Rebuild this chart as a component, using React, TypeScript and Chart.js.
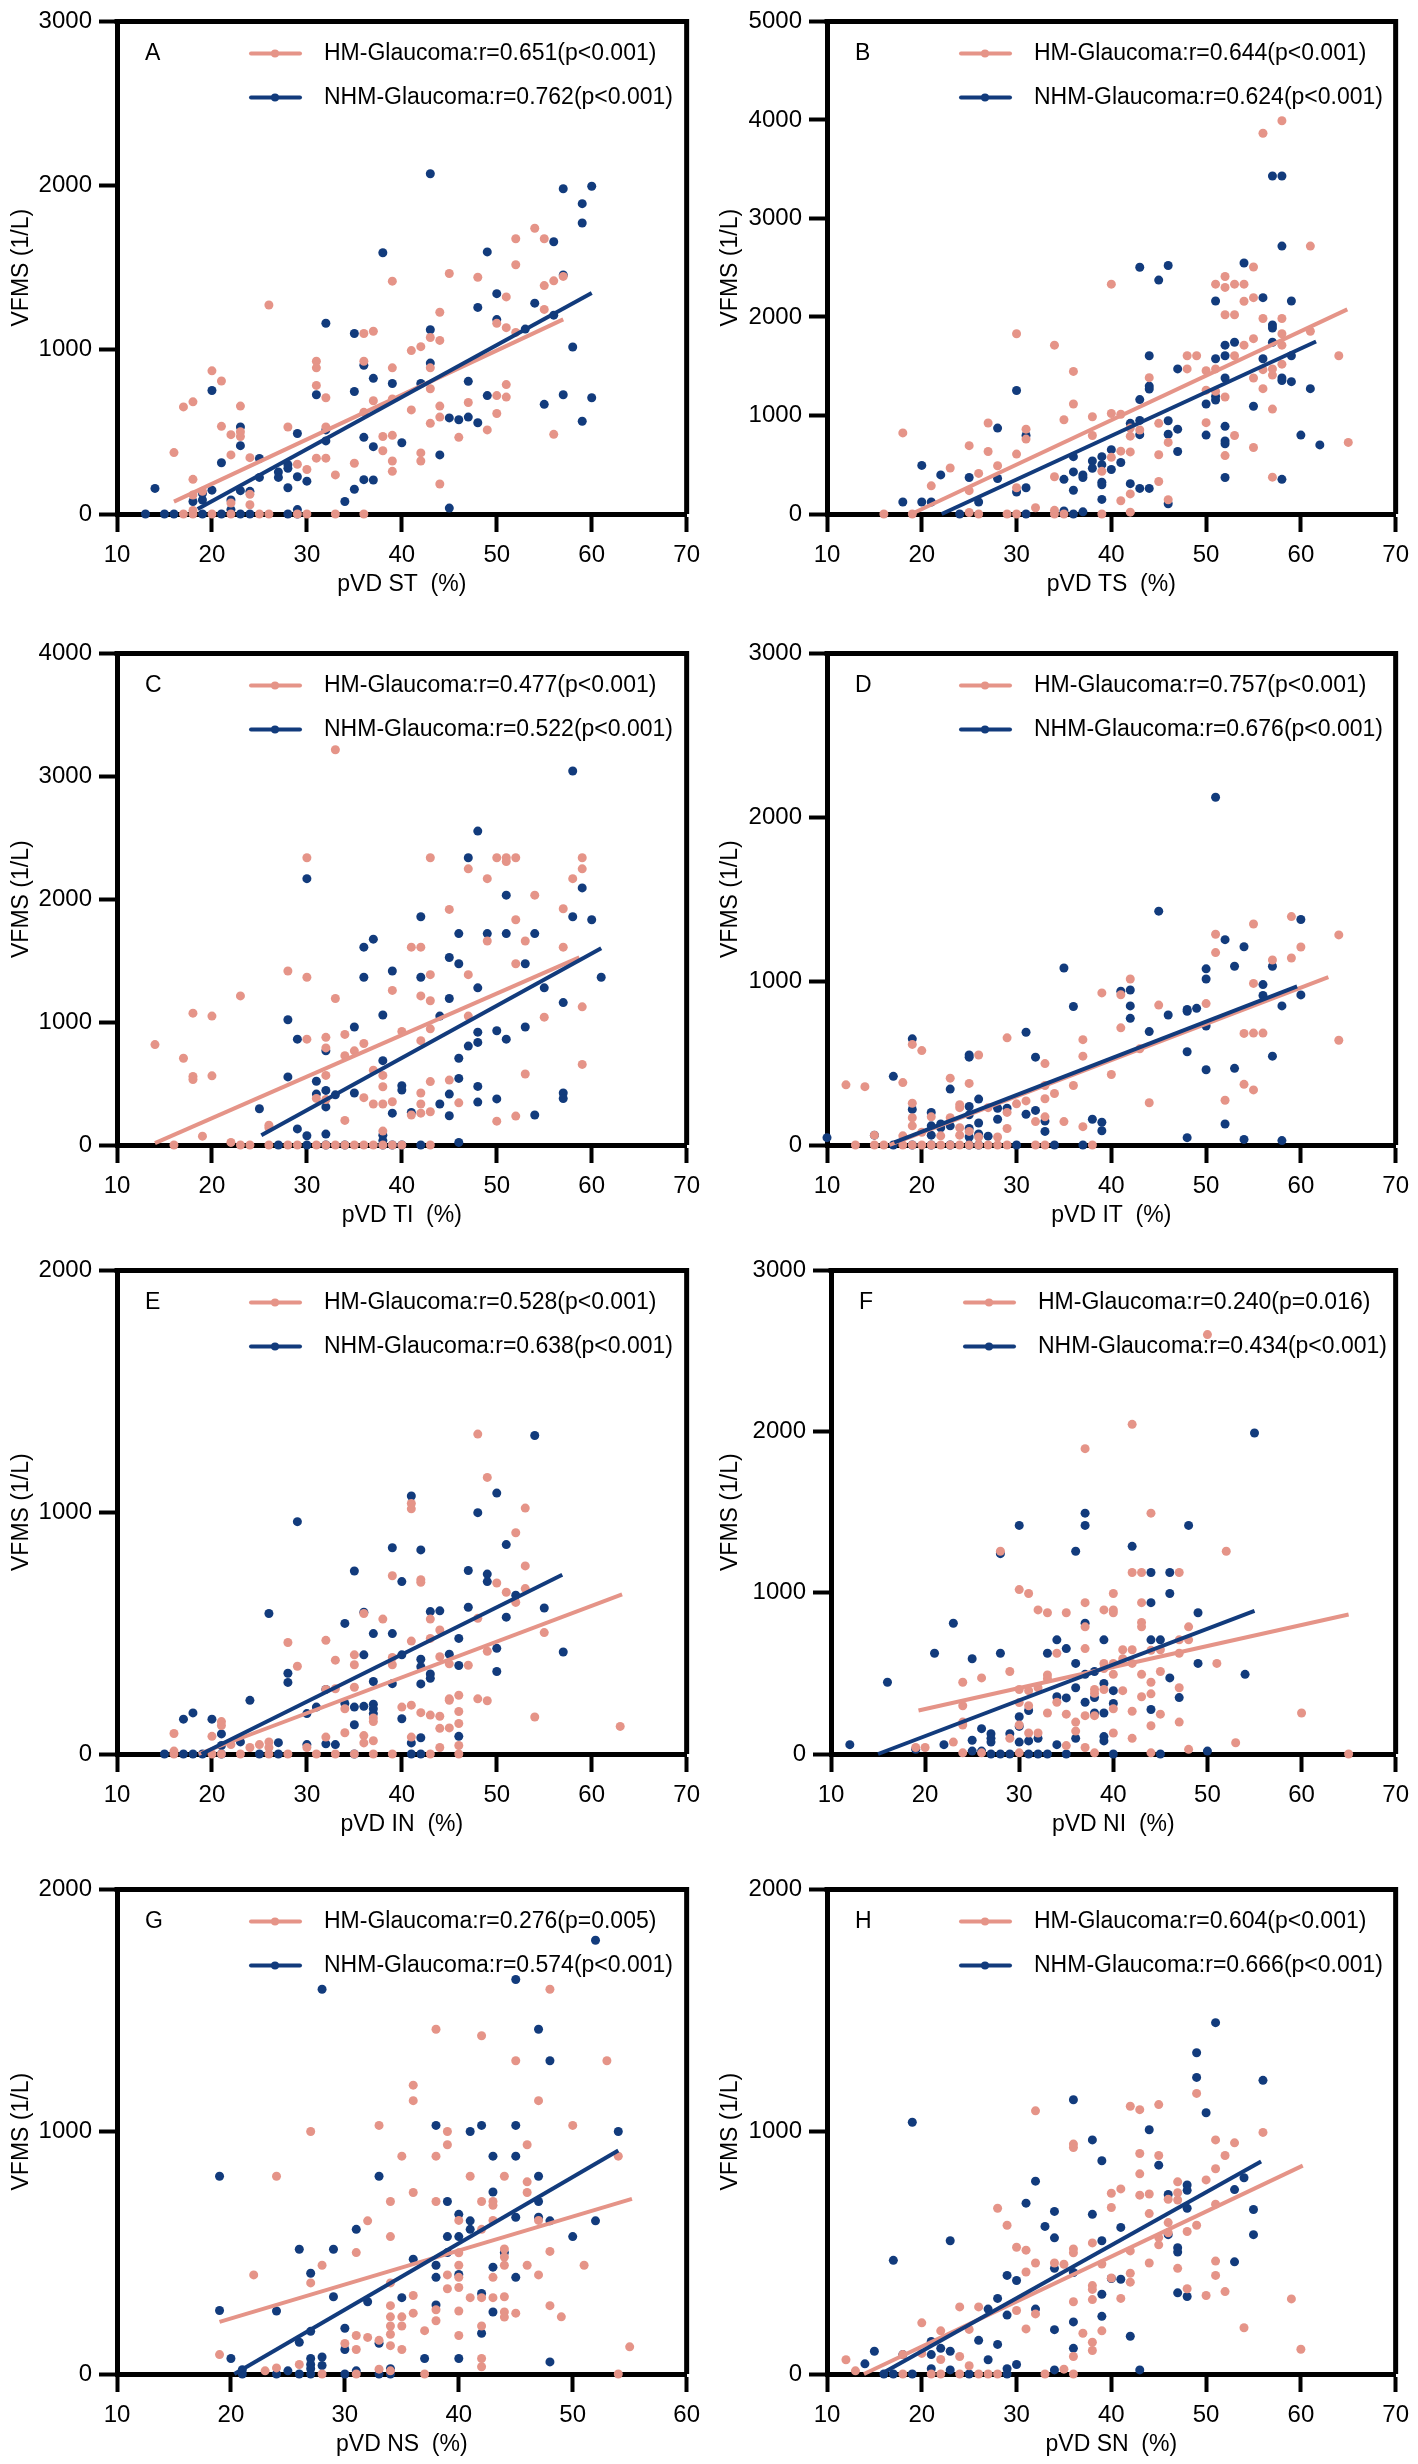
import React, { useEffect, useRef } from "react";
import { Chart, registerables } from "chart.js";

Chart.register(...registerables);

type Pts = [number, number][];

// ---------------- Panel A : pVD ST ----------------
const A_HM: Pts = [[54,1740],[52,1676],[55,1676],[52,1518],[45,1465],[48,1442],[39,1418],[57,1447],[56,1420],[55,1391],[51,1322],[26,1273],[44,1229],[55,1246],[50,1162],[51,1135],[52,1106],[36,1099],[37,1113],[43,1075],[44,1057],[41,995],[42,1019],[31,930],[31,890],[36,930],[39,890],[43,890],[20,872],[21,810],[31,783],[51,788],[43,763],[17,652],[18,683],[23,657],[32,708],[37,690],[39,701],[50,721],[51,712],[47,679],[41,634],[44,657],[36,619],[21,534],[22,483],[23,472],[23,501],[28,530],[32,530],[44,590],[43,552],[50,612],[49,512],[56,485],[46,467],[38,472],[39,479],[16,374],[22,360],[24,343],[29,303],[30,271],[31,340],[32,340],[33,238],[35,309],[38,385],[39,323],[39,260],[42,372],[42,323],[44,183],[18,211],[18,116],[19,138],[22,67],[24,120],[24,56],[18,22],[17,0],[18,0],[20,0],[22,0],[25,0],[26,0],[29,0],[30,0],[33,0],[36,0]];
const A_NHM: Pts = [[43,2072],[57,1981],[60,1996],[59,1890],[59,1772],[56,1658],[38,1591],[49,1596],[57,1456],[50,1342],[54,1284],[48,1258],[50,1184],[56,1211],[32,1162],[35,1099],[43,1122],[53,1126],[58,1017],[36,906],[43,919],[37,826],[39,795],[42,795],[47,808],[20,752],[31,726],[35,746],[49,721],[57,726],[60,708],[55,668],[45,585],[46,574],[47,590],[48,556],[59,565],[23,530],[32,512],[29,490],[36,467],[32,445],[40,434],[23,416],[37,410],[44,360],[25,338],[21,312],[27,256],[27,223],[28,278],[28,300],[25,223],[29,227],[30,200],[36,209],[37,207],[28,160],[14,156],[20,145],[19,125],[23,142],[35,151],[24,138],[18,76],[19,85],[22,85],[34,76],[45,36],[29,27],[22,27],[13,0],[15,0],[16,0],[19,0],[21,0],[23,0],[24,0],[28,0],[29,0]];
const A_HM_FIT: Pts = [[16,75],[57,1185]];
const A_NHM_FIT: Pts = [[18.5,30],[60,1346]];

// ---------------- Panel B : pVD TS ----------------
const B_HM: Pts = [[58,3991],[56,3865],[61,2719],[55,2507],[40,2333],[52,2411],[51,2333],[52,2300],[53,2333],[54,2333],[55,2196],[54,2159],[52,2022],[53,2022],[56,1984],[58,1984],[30,1829],[58,1829],[61,1855],[55,1780],[34,1714],[54,1714],[58,1714],[48,1606],[49,1606],[53,1606],[64,1606],[36,1447],[48,1473],[50,1454],[51,1473],[56,1465],[57,1473],[57,1410],[58,1521],[55,1380],[44,1384],[50,1257],[51,1246],[56,1272],[36,1116],[52,1187],[40,1020],[41,1013],[38,987],[35,957],[57,1065],[27,924],[50,927],[45,920],[42,872],[43,853],[31,861],[18,823],[38,797],[42,790],[53,797],[31,760],[46,727],[65,727],[25,694],[55,675],[27,634],[41,638],[42,630],[30,608],[45,601],[52,593],[40,575],[23,467],[28,490],[26,412],[39,434],[34,378],[57,374],[21,286],[30,267],[45,330],[25,237],[42,204],[41,134],[46,145],[32,63],[34,37],[42,19],[25,15],[16,0],[19,0],[26,0],[29,0],[30,0],[34,0],[35,0],[39,0]];
const B_NHM: Pts = [[57,3431],[58,3431],[58,2719],[54,2548],[43,2504],[46,2522],[45,2374],[56,2196],[59,2162],[51,2162],[57,1918],[57,1888],[52,1714],[53,1743],[57,1743],[44,1606],[52,1606],[51,1576],[56,1576],[59,1606],[47,1473],[52,1380],[58,1380],[58,1354],[59,1343],[44,1298],[44,1269],[30,1254],[61,1272],[51,1194],[51,1157],[43,1161],[50,1116],[55,1094],[42,920],[43,950],[46,946],[52,890],[28,872],[47,861],[31,797],[43,805],[46,809],[50,801],[60,801],[52,742],[52,712],[62,701],[47,634],[36,582],[39,582],[40,653],[41,523],[38,538],[39,501],[20,493],[40,452],[36,427],[22,397],[37,397],[37,371],[38,464],[25,371],[28,360],[35,352],[39,323],[39,297],[52,371],[58,352],[42,308],[43,260],[44,260],[31,267],[30,223],[36,241],[18,122],[20,122],[21,122],[26,122],[39,148],[46,104],[35,30],[37,22],[24,0],[31,0],[36,0]];
const B_HM_FIT: Pts = [[18.9,0],[64.9,2077]];
const B_NHM_FIT: Pts = [[22.1,0],[61.6,1751]];

// ---------------- Panel C : pVD TI ----------------
const C_HM: Pts = [[33,3216],[30,2337],[43,2337],[50,2337],[51,2337],[51,2307],[52,2337],[59,2337],[47,2247],[59,2247],[49,2167],[58,2167],[54,2033],[45,1917],[57,1922],[52,1833],[49,1660],[53,1660],[41,1610],[42,1610],[57,1610],[52,1475],[28,1416],[43,1386],[47,1386],[30,1365],[39,1258],[23,1213],[33,1192],[42,1213],[43,1174],[18,1073],[20,1049],[47,1049],[55,1040],[59,1124],[40,924],[43,945],[14,817],[30,861],[32,876],[34,900],[42,849],[32,790],[36,826],[35,766],[34,727],[17,706],[59,656],[37,608],[18,557],[18,533],[20,563],[32,566],[38,566],[53,578],[45,528],[43,516],[38,474],[42,423],[31,379],[32,370],[36,385],[37,334],[38,334],[39,352],[46,343],[42,334],[42,259],[43,271],[41,244],[52,235],[50,194],[34,200],[26,161],[26,140],[19,72],[38,113],[22,21],[16,0],[23,0],[24,0],[26,0],[28,0],[29,0],[31,0],[32,0],[33,0],[34,0],[35,0],[36,0],[37,0],[38,0],[39,0],[40,0],[43,0]];
const C_NHM: Pts = [[58,3043],[48,2554],[47,2337],[30,2167],[59,2092],[51,2033],[42,1857],[58,1857],[60,1833],[46,1720],[49,1720],[51,1720],[54,1720],[37,1675],[36,1610],[45,1526],[46,1475],[53,1475],[39,1416],[36,1365],[42,1365],[61,1365],[48,1279],[55,1279],[45,1192],[57,1159],[38,1058],[44,1049],[28,1019],[35,960],[53,960],[48,918],[50,930],[29,861],[51,861],[48,835],[47,805],[32,766],[46,706],[38,686],[28,554],[46,542],[31,519],[40,483],[40,447],[48,477],[32,444],[31,414],[33,408],[35,423],[45,414],[57,423],[57,378],[50,375],[48,349],[32,310],[44,334],[25,295],[39,259],[41,265],[45,238],[54,244],[29,131],[30,75],[32,89],[38,80],[38,36],[46,21],[27,0],[30,0],[32,0],[34,0],[38,0],[39,0],[40,0],[42,0]];
const C_HM_FIT: Pts = [[14,15],[58.7,1526]];
const C_NHM_FIT: Pts = [[25.2,80],[61,1600]];

// ---------------- Panel D : pVD IT ----------------
const D_HM: Pts = [[59,1394],[55,1349],[51,1286],[64,1282],[51,1174],[60,1208],[57,1129],[59,1141],[42,1013],[55,986],[39,928],[41,917],[50,863],[45,854],[41,715],[54,681],[55,683],[56,683],[29,654],[37,643],[64,639],[19,614],[20,576],[26,549],[37,542],[33,497],[43,587],[40,430],[23,408],[12,367],[14,356],[18,381],[25,376],[36,363],[33,363],[54,370],[55,336],[34,314],[33,282],[52,273],[44,258],[19,255],[24,246],[24,228],[31,269],[30,251],[29,199],[33,172],[19,166],[23,166],[21,172],[27,228],[32,143],[35,143],[29,101],[37,112],[19,117],[20,78],[25,83],[15,60],[18,56],[24,105],[24,60],[28,49],[26,49],[22,56],[13,0],[15,0],[16,0],[18,0],[19,0],[20,0],[21,0],[22,0],[23,0],[24,0],[25,0],[26,0],[27,0],[28,0],[29,0],[32,0],[33,0],[38,0]];
const D_NHM: Pts = [[51,2122],[45,1427],[60,1376],[52,1253],[54,1210],[35,1080],[53,1091],[50,1075],[57,1091],[50,1013],[41,939],[42,946],[56,979],[56,912],[60,916],[36,845],[42,849],[58,849],[48,827],[49,834],[48,816],[46,793],[50,726],[42,773],[31,688],[44,692],[19,648],[25,549],[25,536],[32,536],[48,569],[57,542],[50,459],[53,468],[17,419],[23,341],[26,280],[19,217],[21,199],[25,235],[28,224],[29,224],[31,188],[32,211],[22,128],[22,105],[21,117],[23,117],[25,184],[26,134],[28,157],[33,146],[38,157],[39,139],[39,87],[33,83],[52,128],[25,101],[26,67],[27,54],[21,60],[15,60],[10,45],[48,45],[54,34],[58,27],[25,49],[17,0],[19,0],[21,0],[23,0],[25,0],[26,0],[30,0],[34,0],[37,0]];
const D_HM_FIT: Pts = [[16.6,0],[62.9,1024]];
const D_NHM_FIT: Pts = [[17.1,16],[59.6,968]];

// ---------------- Panel E : pVD IN ----------------
const E_HM: Pts = [[48,1323],[49,1144],[53,1017],[41,1036],[41,1014],[52,915],[53,778],[39,737],[42,721],[42,710],[50,707],[51,669],[53,684],[52,627],[36,581],[38,558],[43,558],[48,561],[44,513],[55,502],[28,461],[32,470],[41,467],[43,478],[49,425],[29,363],[33,388],[35,410],[35,369],[39,399],[39,369],[44,402],[45,373],[47,367],[32,267],[33,270],[35,276],[34,187],[41,202],[44,156],[43,161],[45,228],[46,243],[45,222],[48,228],[49,220],[42,171],[46,176],[46,126],[54,153],[63,114],[36,76],[36,46],[37,149],[40,194],[37,134],[37,55],[34,88],[44,106],[45,108],[41,70],[32,70],[16,85],[20,73],[21,134],[21,118],[22,39],[25,39],[26,50],[26,27],[24,27],[16,12],[30,27],[44,27],[46,35],[16,0],[20,0],[21,0],[23,0],[26,0],[28,0],[31,0],[33,0],[35,0],[37,0],[39,0],[43,0],[46,0]];
const E_NHM: Pts = [[54,1317],[41,1067],[50,1079],[29,961],[48,998],[51,866],[39,853],[42,844],[35,757],[47,759],[49,744],[49,713],[40,713],[52,657],[26,581],[36,586],[43,589],[44,592],[47,607],[55,604],[51,566],[34,540],[37,498],[39,498],[46,478],[50,437],[57,422],[40,410],[36,410],[45,413],[42,392],[42,361],[46,366],[50,341],[28,334],[43,331],[43,313],[28,296],[37,300],[39,291],[42,290],[32,267],[24,222],[31,194],[34,209],[35,194],[36,197],[37,206],[37,187],[37,167],[30,167],[40,146],[17,144],[18,170],[20,144],[35,121],[21,83],[41,46],[46,73],[42,67],[23,50],[27,47],[33,39],[32,42],[21,35],[30,39],[15,0],[17,0],[18,0],[19,0],[21,0],[25,0],[27,0],[35,0],[41,0],[42,0]];
const E_HM_FIT: Pts = [[18.6,0],[63.2,660]];
const E_NHM_FIT: Pts = [[18.9,0],[56.9,741]];

// ---------------- Panel F : pVD NI ----------------
const F_HM: Pts = [[50,2602],[42,2045],[37,1894],[44,1494],[28,1258],[52,1258],[42,1126],[43,1126],[47,1126],[30,1020],[31,996],[40,996],[43,939],[37,939],[32,894],[33,876],[35,876],[39,894],[40,894],[40,876],[43,816],[43,789],[37,789],[48,789],[48,708],[47,708],[37,654],[41,647],[42,647],[34,625],[45,647],[44,643],[47,625],[41,591],[51,562],[39,562],[39,530],[40,562],[40,494],[42,562],[43,494],[45,512],[29,512],[33,490],[33,467],[26,472],[24,445],[44,445],[44,373],[39,400],[38,400],[30,400],[31,393],[32,411],[47,411],[41,393],[38,377],[43,355],[24,299],[30,319],[31,299],[34,321],[40,281],[33,254],[35,247],[38,238],[37,238],[42,265],[45,247],[60,254],[24,198],[24,180],[44,175],[47,198],[36,198],[36,142],[30,180],[40,130],[31,130],[32,130],[29,97],[42,97],[53,70],[23,74],[19,40],[20,40],[37,40],[48,29],[24,7],[26,7],[30,7],[38,7],[44,7],[65,0],[35,52]];
const F_NHM: Pts = [[55,1991],[37,1494],[37,1418],[30,1418],[48,1418],[42,1288],[28,1243],[36,1258],[44,1126],[46,1126],[46,996],[44,939],[49,876],[23,811],[37,811],[34,708],[39,708],[44,708],[45,708],[35,654],[21,625],[28,625],[33,625],[25,591],[36,562],[49,562],[54,494],[38,512],[37,494],[46,472],[16,445],[39,438],[36,411],[40,393],[34,355],[35,348],[38,350],[47,350],[37,321],[40,314],[44,276],[31,270],[39,254],[38,254],[30,231],[30,171],[26,157],[27,126],[27,97],[27,74],[29,126],[25,85],[32,97],[31,81],[30,74],[36,97],[39,108],[39,81],[34,58],[22,58],[12,58],[25,18],[19,29],[26,18],[50,18],[27,0],[28,0],[29,0],[31,0],[32,0],[33,0],[35,0],[40,0],[45,0]];
const F_HM_FIT: Pts = [[19.3,270],[65,865]];
const F_NHM_FIT: Pts = [[15,0],[55,888]];

// ---------------- Panel G : pVD NS ----------------
const G_HM: Pts = [[48,1588],[38,1423],[42,1396],[45,1293],[53,1293],[36,1192],[36,1128],[47,1128],[33,1026],[50,1026],[27,1001],[39,1001],[39,946],[46,946],[35,899],[38,899],[54,899],[24,816],[41,816],[44,816],[46,793],[36,749],[46,749],[34,712],[38,712],[42,712],[43,712],[43,696],[47,634],[40,634],[32,632],[43,634],[42,597],[34,567],[44,516],[48,506],[31,501],[40,500],[44,483],[44,449],[46,449],[51,449],[28,449],[40,449],[22,409],[39,409],[47,409],[40,399],[43,399],[27,376],[34,376],[39,352],[40,357],[36,324],[41,315],[42,315],[43,315],[44,319],[48,282],[34,282],[38,265],[40,260],[36,251],[44,256],[44,235],[45,251],[49,236],[34,236],[35,236],[38,220],[34,198],[35,198],[42,198],[37,179],[34,164],[40,159],[31,159],[32,151],[33,139],[34,117],[30,126],[31,101],[35,101],[55,112],[19,80],[26,39],[42,64],[42,30],[23,13],[24,25],[33,20],[28,0],[31,0],[37,0],[54,0],[34,13]];
const G_NHM: Pts = [[52,1790],[45,1628],[28,1588],[47,1423],[48,1293],[38,1026],[42,1026],[45,1026],[41,1001],[54,1001],[43,899],[45,899],[19,816],[33,816],[47,816],[43,751],[39,712],[47,712],[40,659],[45,647],[47,647],[41,632],[41,597],[48,632],[52,632],[31,597],[39,567],[40,567],[50,567],[26,515],[29,515],[39,501],[44,501],[36,474],[38,449],[43,441],[27,416],[40,411],[38,399],[45,399],[42,332],[29,319],[35,315],[32,298],[38,285],[19,262],[24,260],[43,256],[30,189],[27,176],[42,168],[26,131],[33,127],[30,101],[37,64],[40,64],[27,64],[28,70],[20,64],[48,50],[28,35],[27,39],[27,22],[21,18],[25,13],[31,13],[34,22],[21,0],[24,0],[26,0],[27,0],[30,0],[33,0],[34,0]];
const G_HM_FIT: Pts = [[19,215],[55.2,723]];
const G_NHM_FIT: Pts = [[20.3,0],[54,922]];

// ---------------- Panel H : pVD SN ----------------
const H_HM: Pts = [[49,1158],[32,1086],[42,1105],[43,1091],[45,1112],[56,997],[36,949],[36,935],[51,966],[53,954],[43,910],[45,902],[52,902],[51,847],[43,826],[50,801],[47,793],[40,746],[41,764],[43,738],[44,743],[46,721],[47,748],[47,718],[51,701],[28,684],[44,662],[29,614],[40,687],[46,625],[46,583],[48,588],[49,614],[38,541],[45,563],[45,533],[30,523],[31,511],[36,516],[36,500],[42,508],[39,454],[34,458],[35,453],[32,458],[44,458],[51,466],[47,436],[31,421],[42,416],[42,379],[40,396],[51,407],[38,365],[38,349],[38,307],[48,352],[52,340],[50,324],[41,312],[59,310],[36,298],[24,277],[26,277],[30,262],[32,248],[20,211],[31,186],[25,184],[22,178],[54,191],[37,168],[39,178],[38,131],[38,97],[60,102],[22,60],[24,72],[36,72],[35,20],[12,59],[13,13],[20,85],[18,80],[25,34],[18,0],[21,0],[22,0],[24,0],[26,0],[27,0],[28,0],[33,0],[36,0]];
const H_NHM: Pts = [[51,1450],[49,1326],[49,1224],[56,1212],[36,1132],[50,1078],[19,1039],[44,1008],[38,966],[45,862],[39,880],[32,796],[54,810],[53,761],[31,705],[48,780],[48,758],[46,741],[34,671],[38,659],[48,684],[55,679],[33,609],[41,605],[34,562],[55,575],[46,575],[23,550],[39,550],[47,521],[47,503],[53,463],[17,469],[34,436],[36,419],[29,407],[30,386],[40,394],[41,391],[47,335],[48,320],[39,329],[28,312],[32,268],[27,268],[29,243],[39,238],[36,215],[34,183],[42,156],[26,139],[28,122],[21,134],[22,106],[23,94],[15,94],[18,80],[21,80],[36,106],[14,42],[27,59],[30,39],[29,22],[34,17],[43,17],[21,22],[23,17],[16,0],[17,0],[19,0],[25,0],[29,0]];
const H_HM_FIT: Pts = [[13.9,0],[60.2,860]];
const H_NHM_FIT: Pts = [[15.7,0],[55.8,877]];

// ---------------- labels / axes ----------------
const LETTERS = ["A", "B", "C", "D", "E", "F", "G", "H"];
const X_TITLES = ["pVD ST  (%)", "pVD TS  (%)", "pVD TI  (%)", "pVD IT  (%)", "pVD IN  (%)", "pVD NI  (%)", "pVD NS  (%)", "pVD SN  (%)"];
const Y_TITLE = "VFMS (1/L)";
const Y_MAX = [3000, 5000, 4000, 3000, 2000, 3000, 2000, 2000];
const X_MIN = [10, 10, 10, 10, 10, 10, 10, 10];
const X_MAX = [70, 70, 70, 70, 70, 70, 60, 70];
const HM_LABELS = [
  "HM-Glaucoma:r=0.651(p<0.001)",
  "HM-Glaucoma:r=0.644(p<0.001)",
  "HM-Glaucoma:r=0.477(p<0.001)",
  "HM-Glaucoma:r=0.757(p<0.001)",
  "HM-Glaucoma:r=0.528(p<0.001)",
  "HM-Glaucoma:r=0.240(p=0.016)",
  "HM-Glaucoma:r=0.276(p=0.005)",
  "HM-Glaucoma:r=0.604(p<0.001)",
];
const NHM_LABELS = [
  "NHM-Glaucoma:r=0.762(p<0.001)",
  "NHM-Glaucoma:r=0.624(p<0.001)",
  "NHM-Glaucoma:r=0.522(p<0.001)",
  "NHM-Glaucoma:r=0.676(p<0.001)",
  "NHM-Glaucoma:r=0.638(p<0.001)",
  "NHM-Glaucoma:r=0.434(p<0.001)",
  "NHM-Glaucoma:r=0.574(p<0.001)",
  "NHM-Glaucoma:r=0.666(p<0.001)",
];

const HM_SERIES = [A_HM, B_HM, C_HM, D_HM, E_HM, F_HM, G_HM, H_HM];
const NHM_SERIES = [A_NHM, B_NHM, C_NHM, D_NHM, E_NHM, F_NHM, G_NHM, H_NHM];
const HM_FITS = [A_HM_FIT, B_HM_FIT, C_HM_FIT, D_HM_FIT, E_HM_FIT, F_HM_FIT, G_HM_FIT, H_HM_FIT];
const NHM_FITS = [A_NHM_FIT, B_NHM_FIT, C_NHM_FIT, D_NHM_FIT, E_NHM_FIT, F_NHM_FIT, G_NHM_FIT, H_NHM_FIT];

// ---------------- styling / layout ----------------
const PINK = "rgb(229,148,136)";
const BLUE = "rgb(18,59,124)";
const FONT = "'Liberation Sans', Arial, Helvetica, sans-serif";

const PANEL_W = 709;
const COL_X = [0, 709];
const PLOT_TOP = [16, 648, 1265, 1884];
const PLOT_BOTTOM = [514, 1145, 1754, 2374];
const PLOT_LEFT = [117, 118, 117, 118, 117, 122, 117, 118];
const PLOT_RIGHT = [688, 688, 688, 688, 688, 690, 688, 688];
const PAD_TOP = 16;
const X_AXIS_H = 100;

Chart.defaults.font.family = FONT;
Chart.defaults.color = "#000";

const decorPlugin = {
  id: "panelDecor",
  beforeDatasetsDraw(chart: any) {
    const { ctx, chartArea } = chart;
    const { left, top, right, bottom } = chartArea;
    ctx.save();
    ctx.strokeStyle = "#000";
    ctx.lineWidth = 5;
    ctx.beginPath();
    ctx.moveTo(left - 2.5, top);
    ctx.lineTo(right + 2.5, top);
    ctx.moveTo(right, top);
    ctx.lineTo(right, bottom);
    ctx.stroke();
    ctx.restore();
  },
  afterDraw(chart: any, _args: any, opts: any) {
    if (!opts || !opts.items) return;
    const { ctx, chartArea } = chart;
    const { left, top } = chartArea;
    ctx.save();
    ctx.font = `23px ${FONT}`;
    ctx.textBaseline = "middle";
    ctx.textAlign = "left";
    ctx.fillStyle = "#000";
    ctx.fillText(opts.letter, left + 28, top + 32);
    opts.items.forEach((it: any, i: number) => {
      const y = top + 32 + i * 44;
      ctx.strokeStyle = it.color;
      ctx.lineWidth = 4;
      ctx.lineCap = "round";
      ctx.beginPath();
      ctx.moveTo(left + 134, y);
      ctx.lineTo(left + 183, y);
      ctx.stroke();
      ctx.fillStyle = it.color;
      ctx.beginPath();
      ctx.arc(left + 158, y, 4, 0, Math.PI * 2);
      ctx.fill();
      ctx.fillStyle = "#000";
      ctx.fillText(it.text, left + 207, y);
    });
    ctx.restore();
  },
};
Chart.register(decorPlugin as any);

const toXY = (pts: Pts) => pts.map(([x, y]) => ({ x, y }));

function buildConfig(i: number): any {
  const pointDs = (pts: Pts, color: string) => ({
    type: "scatter",
    data: toXY(pts),
    backgroundColor: color,
    borderColor: color,
    pointRadius: 4.5,
    pointHoverRadius: 4.5,
    pointBorderWidth: 0,
    clip: false,
  });
  const fitDs = (pts: Pts, color: string) => ({
    type: "scatter",
    data: toXY(pts),
    showLine: true,
    borderColor: color,
    backgroundColor: color,
    borderWidth: 4,
    pointRadius: 0,
    pointHoverRadius: 0,
    clip: false,
  });
  const axisGrid = {
    display: true,
    drawOnChartArea: false,
    drawTicks: true,
    tickLength: 18,
    tickWidth: 4,
    tickColor: "#000",
  };
  return {
    type: "scatter",
    data: {
      datasets: [
        fitDs(NHM_FITS[i], BLUE),
        fitDs(HM_FITS[i], PINK),
        pointDs(HM_SERIES[i], PINK),
        pointDs(NHM_SERIES[i], BLUE),
      ],
    },
    options: {
      animation: false,
      responsive: false,
      events: [],
      layout: { padding: { top: PAD_TOP, left: 0, bottom: 0, right: PANEL_W - PLOT_RIGHT[i] } },
      plugins: {
        legend: { display: false },
        tooltip: { enabled: false },
        panelDecor: {
          letter: LETTERS[i],
          items: [
            { text: HM_LABELS[i], color: PINK },
            { text: NHM_LABELS[i], color: BLUE },
          ],
        },
      },
      scales: {
        x: {
          type: "linear",
          position: "bottom",
          min: X_MIN[i],
          max: X_MAX[i],
          afterFit: (s: any) => {
            s.height = X_AXIS_H;
          },
          ticks: {
            stepSize: 10,
            autoSkip: false,
            maxRotation: 0,
            padding: 9,
            color: "#000",
            font: { size: 24, family: FONT },
            callback: (v: any) => String(v),
          },
          grid: axisGrid,
          border: { display: true, color: "#000", width: 5 },
          title: {
            display: true,
            text: X_TITLES[i],
            color: "#000",
            font: { size: 23, family: FONT },
            padding: { top: 0, bottom: 16 },
          },
        },
        y: {
          type: "linear",
          position: "left",
          min: 0,
          max: Y_MAX[i],
          afterFit: (s: any) => {
            s.width = PLOT_LEFT[i];
          },
          ticks: {
            stepSize: 1000,
            padding: 7,
            color: "#000",
            font: { size: 24, family: FONT },
            callback: (v: any) => String(v),
          },
          grid: axisGrid,
          border: { display: true, color: "#000", width: 5 },
          title: {
            display: true,
            text: Y_TITLE,
            color: "#000",
            font: { size: 23, family: FONT },
            padding: { top: 8, bottom: 0 },
          },
        },
      },
    },
  };
}

function Panel({ index }: { index: number }) {
  const ref = useRef<HTMLCanvasElement | null>(null);
  const row = Math.floor(index / 2);
  const col = index % 2;
  const plotH = PLOT_BOTTOM[row] - PLOT_TOP[row];
  const h = PAD_TOP + plotH + X_AXIS_H;
  const left = COL_X[col];
  const top = PLOT_TOP[row] - PAD_TOP;
  useEffect(() => {
    if (!ref.current) return;
    const chart = new Chart(ref.current, buildConfig(index));
    return () => chart.destroy();
  }, [index]);
  return (
    <canvas
      ref={ref}
      width={PANEL_W}
      height={h}
      style={{ position: "absolute", left, top, width: PANEL_W, height: h }}
    />
  );
}

export default function App() {
  return (
    <div
      style={{
        position: "absolute",
        left: 0,
        top: 0,
        width: 1418,
        height: 2464,
        background: "#fff",
        overflow: "hidden",
      }}
    >
      {LETTERS.map((_, i) => (
        <Panel key={i} index={i} />
      ))}
    </div>
  );
}
